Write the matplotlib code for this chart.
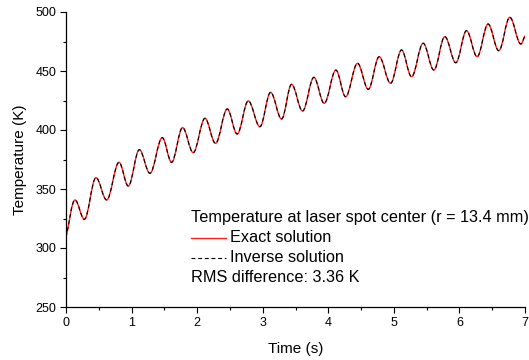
import matplotlib
matplotlib.use('Agg')
import matplotlib.pyplot as plt
from matplotlib.path import Path
from matplotlib.patches import PathPatch
from matplotlib.lines import Line2D

plt.rcParams['font.family'] = ['Liberation Sans', 'DejaVu Sans']

# start point, then alternating peaks / troughs, then end point
time_s = [0.0, 0.137, 0.28, 0.457, 0.62, 0.808, 0.95, 1.118, 1.28, 1.468, 1.61,
          1.778, 1.94, 2.119, 2.28, 2.459, 2.61, 2.78, 2.957, 3.12, 3.288,
          3.44, 3.608, 3.78, 3.938, 4.116, 4.264, 4.446, 4.61, 4.776, 4.95,
          5.117, 5.27, 5.447, 5.61, 5.777, 5.945, 6.108, 6.27, 6.437, 6.6,
          6.768, 6.936, 7.0]
temp_exact = [309.0, 340.7, 324.3, 359.6, 340.7, 372.6, 352.5, 383.3, 363.3, 393.5, 372.6,
              402.0, 380.8, 409.9, 388.7, 417.8, 396.6, 424.6, 402.8, 431.9, 409.3,
              438.7, 416.1, 444.6, 422.6, 450.8, 428.2, 456.5, 434.5, 462.1, 439.6,
              467.8, 445.2, 473.5, 450.8, 479.1, 457.0, 484.2, 462.1, 489.8, 467.2,
              495.5, 472.9, 480.0]
# inverse solution lies on top of the exact one at this scale
temp_inverse = list(temp_exact)

legend_title = 'Temperature at laser spot center (r = 13.4 mm)'
legend_labels = ['Exact solution', 'Inverse solution']
rms_text = 'RMS difference: 3.36 K'


def smooth_path(t, y, k=0.36):
    # cubic segments, flat at the extrema, straight out at both ends
    verts = [(t[0], y[0])]
    codes = [Path.MOVETO]
    n = len(t)
    for i in range(n - 1):
        dt = t[i + 1] - t[i]
        if i == 0:
            c1 = (t[i] + k * dt, y[i] + k * (y[i + 1] - y[i]))
        else:
            c1 = (t[i] + k * dt, y[i])
        if i + 1 == n - 1:
            c2 = (t[i + 1] - k * dt, y[i + 1] - k * (y[i + 1] - y[i]))
        else:
            c2 = (t[i + 1] - k * dt, y[i + 1])
        verts += [c1, c2, (t[i + 1], y[i + 1])]
        codes += [Path.CURVE4] * 3
    return Path(verts, codes)


fig = plt.figure(figsize=(5.29, 3.6), dpi=100)
ax = fig.add_axes([66 / 529, 1 - 307 / 360, 459 / 529, 295 / 360])

ax.add_patch(PathPatch(smooth_path(time_s, temp_exact), fill=False,
                       edgecolor='#ff2020', lw=1.0))
ax.add_patch(PathPatch(smooth_path(time_s, temp_inverse), fill=False,
                       edgecolor='black', lw=0.8, linestyle=(0, (3.5, 2.5))))

ax.set_xlim(0, 7)
ax.set_ylim(250, 500)
ax.set_xticks(range(0, 8))
ax.set_xticks([x + 0.5 for x in range(7)], minor=True)
ax.set_yticks(range(250, 501, 50))
ax.set_yticks(range(275, 500, 50), minor=True)
for s in ['top', 'right']:
    ax.spines[s].set_visible(False)
for s in ['left', 'bottom']:
    ax.spines[s].set_linewidth(0.9)
ax.tick_params(which='major', direction='out', length=4, width=0.8, labelsize=9, pad=3)
ax.tick_params(which='minor', direction='out', length=2.5, width=0.8)

ax.set_xlabel('Time (s)', fontsize=11)
ax.set_ylabel('Temperature (K)', fontsize=11)
ax.xaxis.set_label_coords(0.501, -0.12)
ax.yaxis.set_label_coords(-0.085, 0.5)

# legend drawn by hand: title, two line samples, RMS line
def fx(px):
    return px / 529


def fy(py):
    return 1 - py / 360


fs = 11.7
fig.text(fx(191), fy(218), legend_title, fontsize=fs, va='center')
fig.add_artist(Line2D([fx(191), fx(226)], [fy(238), fy(238)], color='#ff2020', lw=1.0))
fig.text(fx(230), fy(238), legend_labels[0], fontsize=fs, va='center')
fig.add_artist(Line2D([fx(191), fx(226)], [fy(257.5), fy(257.5)], color='black', lw=0.8,
                      linestyle=(0, (3.5, 2.5))))
fig.text(fx(230), fy(257.5), legend_labels[1], fontsize=fs, va='center')
fig.text(fx(191), fy(277), rms_text, fontsize=fs, va='center')

fig.savefig('out.png', dpi=100)
